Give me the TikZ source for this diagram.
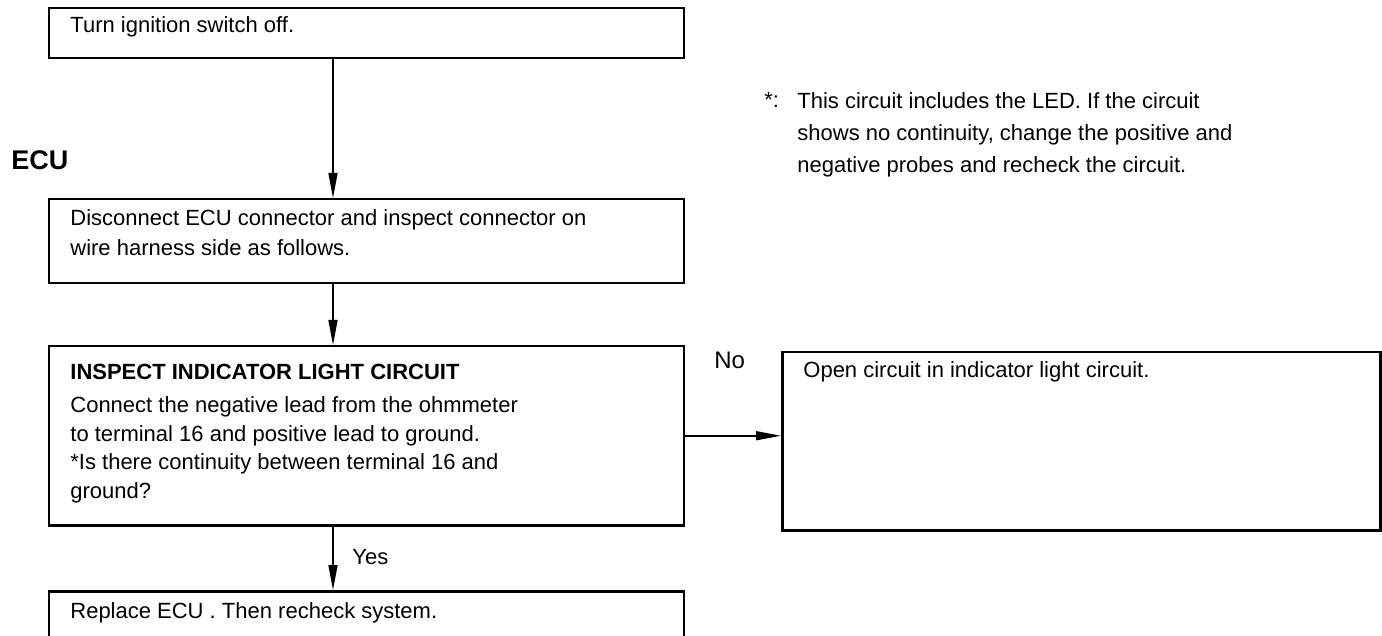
\documentclass[tikz,border=0pt]{standalone}
\usepackage{fontspec}
\setmainfont{Liberation Sans}
\usetikzlibrary{arrows.meta}
\tikzstyle{flowbox}=[rectangle, draw, line width=1.25pt, inner sep=0pt, anchor=north west, minimum width=317.5pt]
\tikzstyle{flowtext}=[inner sep=0pt, anchor=north west, align=left, font=\fontsize{11}{14.25}\selectfont]
\newcommand{\flowbox}{\node[flowbox]}

\begin{document}
\begin{tikzpicture}[x=0.5pt, y=-0.5pt
    ,>={Triangle[length=12.5pt,width=4.5pt]}
    ,every edge/.style={draw, line width=0.75pt, ->}
]
\useasboundingbox (0,0) rectangle (1382,636);
\clip (0,0) rectangle (1382,636);
% boxes
\flowbox[minimum height=25pt] (off) at (47.5,7) {};
\flowbox[minimum height=42pt] (disc) at (47.5,198) {};
\flowbox[minimum height=89.5pt] (insp) at (47.5,345) {};
\flowbox[minimum height=40pt] (repl) at (47.5,590) {};
\flowbox[minimum width=299pt, minimum height=89pt] (open) at (781,351) {};
% texts
\node[flowtext] (offtxt) at (70,16) {Turn ignition switch off.};
\node[flowtext] (disctxt) at (70,209) {Disconnect ECU connector and inspect connector on\\[0.75pt]
    wire harness side as follows.};
\node[flowtext] (insptxt) at (70,364) {\textbf{INSPECT INDICATOR LIGHT CIRCUIT}\\[2.25pt]
    Connect the negative lead from the ohmmeter\\
    to terminal 16 and positive lead to ground.\\
    *Is there continuity between terminal 16 and\\
    ground?};
\node[flowtext] (repltxt) at (70,602) {Replace ECU . Then recheck system.};
\node[flowtext] (opentxt) at (803,361) {Open circuit in indicator light circuit.};
\node[flowtext, font=\fontsize{13.5}{16}\selectfont\bfseries] (ecu) at (11,150) {ECU};
\node[flowtext] (star) at (764,92) {*:};
\node[flowtext, font=\fontsize{11}{16}\selectfont] (note) at (797,92) {This circuit includes the LED. If the circuit\\
    shows no continuity, change the positive and\\
    negative probes and recheck the circuit.};
% arrows
\coordinate (axis) at (333,0);
\path
(off.south -| axis) edge (disc.north -| axis)
(disc.south -| axis) edge (insp.north -| axis)
(insp.south -| axis) edge (repl.north -| axis)
(insp.east) edge (insp.east -| open.west)
;
\node[flowtext] (yes) at (352,549) {Yes};
\node[flowtext, font=\fontsize{12}{14}\selectfont] (no) at (714,352) {No};
\end{tikzpicture}
\end{document}
